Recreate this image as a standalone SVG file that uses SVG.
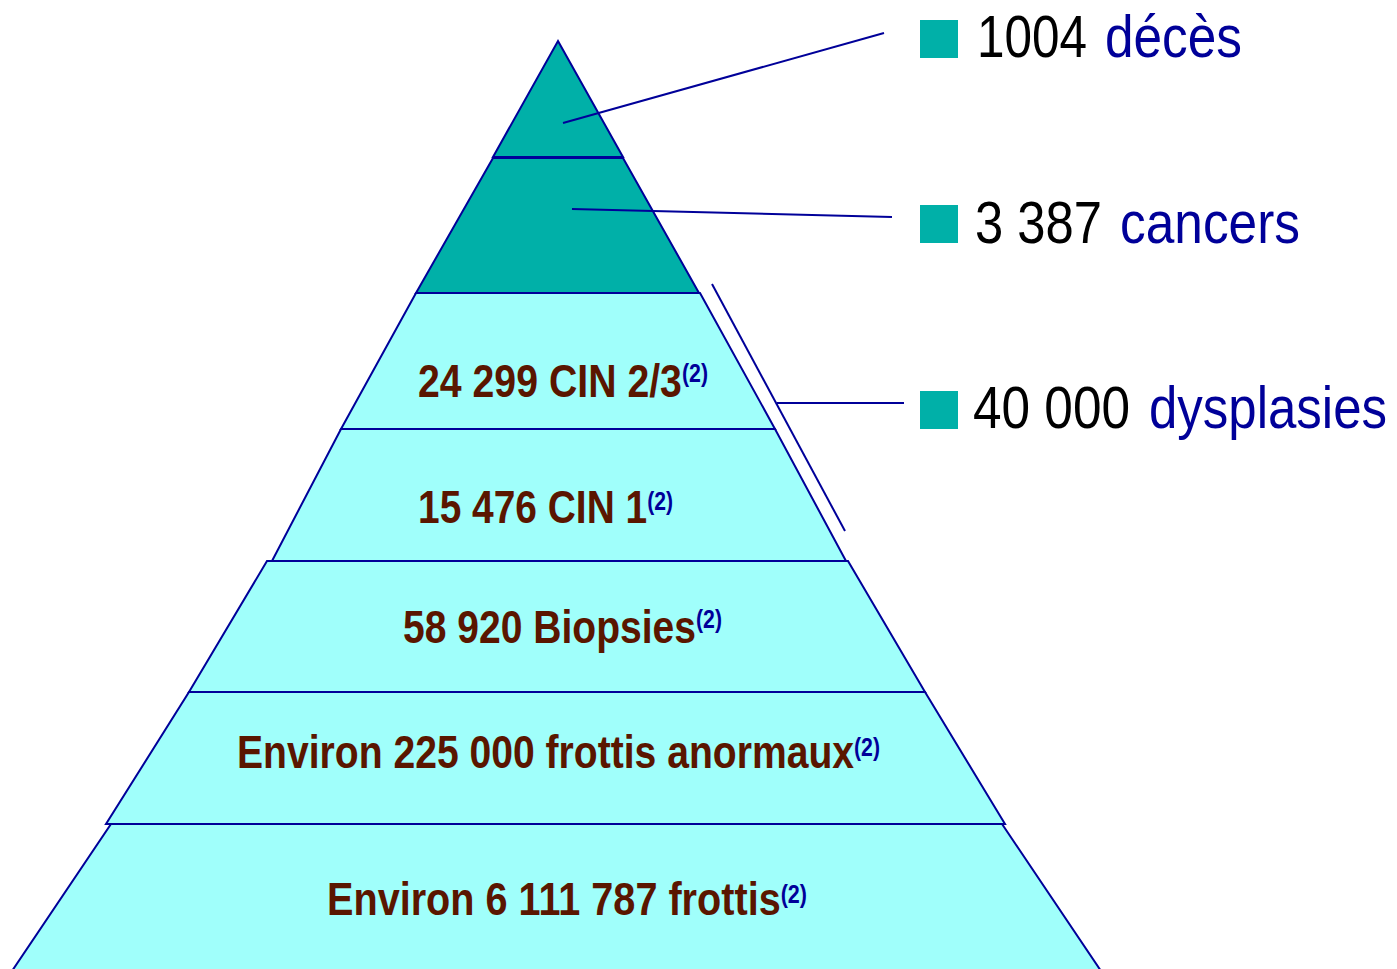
<svg xmlns="http://www.w3.org/2000/svg" width="1397" height="969" viewBox="0 0 1397 969">
<style>
.dark{fill:#00b0a8;stroke:#000099;stroke-width:2;stroke-linejoin:miter}
.light{fill:#a0fffb;stroke:#000099;stroke-width:2;stroke-linejoin:miter}
.con{stroke:#000099;stroke-width:2;fill:none}
.lbl{font-family:"Liberation Sans",Arial,sans-serif;font-weight:bold;font-size:46px;fill:#5a1600}
.sup{font-size:25px;fill:#000099}
.num{font-family:"Liberation Sans",Arial,sans-serif;font-size:60px;fill:#000000}
.word{font-family:"Liberation Sans",Arial,sans-serif;font-size:60px;fill:#000099}
.sq{fill:#00b0a8}
</style>
<rect width="1397" height="969" fill="#ffffff"/>
<g id="pyramid">
<g id="layer-deces"><polygon class="dark" points="558,41 623,157 493,157"/></g>
<g id="layer-cancers"><polygon class="dark" points="493,158 623,158 699,293 416,293"/></g>
<g id="layer-cin23"><polygon class="light" points="416,293 700,293 775,429 341,429"/>
<text class="lbl" x="418" y="397" textLength="290" lengthAdjust="spacingAndGlyphs">24 299 CIN 2/3<tspan class="sup" dy="-15">(2)</tspan></text></g>
<g id="layer-cin1"><polygon class="light" points="341,429 775,429 846,561 272,561"/>
<text class="lbl" x="418" y="523" textLength="255" lengthAdjust="spacingAndGlyphs">15 476 CIN 1<tspan class="sup" dy="-13">(2)</tspan></text></g>
<g id="layer-biopsies"><polygon class="light" points="267,561 848,561 925,692 189,692"/>
<text class="lbl" x="403" y="643" textLength="319" lengthAdjust="spacingAndGlyphs">58 920 Biopsies<tspan class="sup" dy="-15">(2)</tspan></text></g>
<g id="layer-anormaux"><polygon class="light" points="189,692 925,692 1005,824 106,824"/>
<text class="lbl" x="237" y="768" textLength="643" lengthAdjust="spacingAndGlyphs">Environ 225 000 frottis anormaux<tspan class="sup" dy="-12">(2)</tspan></text></g>
<g id="layer-frottis"><polygon class="light" points="111,824 1002,824 1101,971 12,971"/>
<text class="lbl" x="327" y="915" textLength="480" lengthAdjust="spacingAndGlyphs">Environ 6 111 787 frottis<tspan class="sup" dy="-12">(2)</tspan></text></g>
</g>
<g id="connectors">
<line class="con" x1="563" y1="123" x2="884" y2="33"/>
<line class="con" x1="572" y1="209" x2="892" y2="217"/>
<line class="con" x1="712" y1="284" x2="845" y2="531"/>
<line class="con" x1="777" y1="403" x2="904" y2="403"/>
</g>
<g id="legend-deces">
<rect class="sq" x="920" y="20" width="38" height="38"/>
<text class="num" x="977" y="57" textLength="110" lengthAdjust="spacingAndGlyphs">1004</text>
<text class="word" x="1105" y="57" textLength="137" lengthAdjust="spacingAndGlyphs">décès</text>
</g>
<g id="legend-cancers">
<rect class="sq" x="920" y="205" width="38" height="38"/>
<text class="num" x="975" y="243" textLength="127" lengthAdjust="spacingAndGlyphs">3 387</text>
<text class="word" x="1120" y="243" textLength="180" lengthAdjust="spacingAndGlyphs">cancers</text>
</g>
<g id="legend-dysplasies">
<rect class="sq" x="920" y="391" width="38" height="38"/>
<text class="num" x="973" y="428" textLength="157" lengthAdjust="spacingAndGlyphs">40 000</text>
<text class="word" x="1149" y="428" textLength="238" lengthAdjust="spacingAndGlyphs">dysplasies</text>
</g>
</svg>
